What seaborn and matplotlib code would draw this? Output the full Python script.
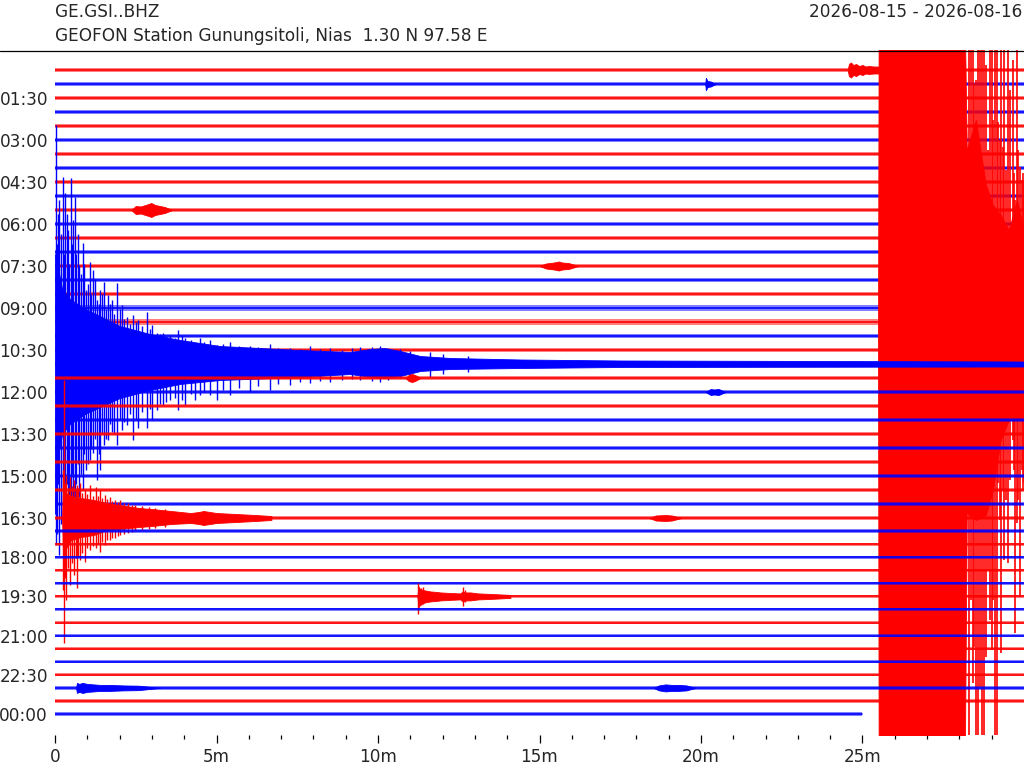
import numpy as np
import pandas as pd
import matplotlib
matplotlib.use("Agg")
import matplotlib.pyplot as plt
from matplotlib.lines import Line2D
import seaborn as sns

# ---------------------------------------------------------------- texts
TITLE_LEFT_1 = "GE.GSI..BHZ"
TITLE_LEFT_2 = "GEOFON Station Gunungsitoli, Nias  1.30 N 97.58 E"
TITLE_RIGHT = "2026-08-15 - 2026-08-16"

ROW_TICK_LABELS = ["01:30", "03:00", "04:30", "06:00", "07:30", "09:00",
                   "10:30", "12:00", "13:30", "15:00", "16:30", "18:00",
                   "19:30", "21:00", "22:30", "00:00"]
X_TICK_VALUES = [0, 5, 10, 15, 20, 25]
X_TICK_LABELS = ["0", "5m", "10m", "15m", "20m", "25m"]

# ---------------------------------------------------------------- rows
N_ROWS = 48
ROW_END_MIN = [30.0] * 47 + [25.0]          # last row stops at 25 min
# half amplitude of the background noise of each row (trace units)
ROW_NOISE = [2.2, 2.2, 2.0, 2.0, 2.0, 2.0, 2.0, 2.0, 2.0, 2.0,
             2.0, 2.0, 2.0, 2.0, 2.0, 2.0, 2.0, 2.6, 2.6, 2.0,
             2.0, 2.0, 2.0, 2.0, 1.8, 1.8, 1.8, 1.8, 1.8, 1.8,
             1.8, 1.8, 1.8, 1.7, 1.6, 1.7, 1.6, 1.7, 1.6, 1.7,
             1.6, 1.7, 1.6, 1.7, 1.6, 1.7, 1.6, 1.7]

# ---------------------------------------------------------------- events
# big quake, starts in row 20 (red) at 25.5 min
MAIN_ROW = 20
MAIN_T = [25.48, 25.50, 28.17, 28.23, 28.51, 28.82, 29.04, 29.28, 29.53, 29.78, 30.0]
MAIN_UP = [0, 320, 320, 200, 230, 165, 145, 135, 120, 150, 120]
MAIN_DN = [0, 400, 400, 163, 170, 165, 140, 90, 70, 70, 70]
MAIN_SPIKE_T = [28.29, 28.36, 28.42, 28.45, 28.51, 28.57, 28.63, 28.70, 28.76,
                28.82, 28.88, 28.94, 29.01, 29.04, 29.10, 29.16, 29.19, 29.25,
                29.28, 29.35, 29.38, 29.44, 29.50, 29.56, 29.66, 29.69, 29.72,
                29.78, 29.81, 29.87, 29.93, 29.97, 30.0]
MAIN_SPIKE_UP = [310, 310, 310, 267, 270, 310, 310, 310, 310, 285, 200, 310,
                 310, 230, 310, 310, 228, 210, 310, 203, 310, 180, 310, 260,
                 290, 177, 150, 310, 200, 183, 170, 177, 170]
MAIN_SPIKE_DN = [400, 250, 333, 297, 400, 400, 337, 400, 400, 307, 220, 270,
                 300, 250, 400, 400, 133, 170, 303, 140, 210, 150, 213, 130,
                 90, 120, 283, 173, 150, 247, 120, 140, 133]

# continuation in row 21 (blue)
CODA_ROW = 21
CODA_T = [0.0, 0.10, 0.22, 0.46, 0.93, 1.39, 2.01, 2.94, 3.87, 5.11, 7.59,
          9.14, 9.76, 10.2, 10.69, 11.31, 12.24, 14.41, 17.51, 30.0]
CODA_UP = [110, 95, 75, 65, 55, 48, 38, 30, 24, 18, 14, 12, 15, 16, 13, 8, 6, 4.5, 3.5, 2.5]
CODA_DN = [150, 90, 70, 60, 50, 43, 34, 26, 20, 16, 13, 10, 13, 14, 12, 7, 5, 4, 3, 2.5]
CODA_SPIKE_T = [0.03, 0.05, 0.09, 0.12, 0.18, 0.24, 0.28, 0.31, 0.36, 0.40,
                0.44, 0.49, 0.53, 0.56, 0.62, 0.66, 0.70, 0.74, 0.80, 0.86,
                0.91, 0.96, 1.02, 1.08, 1.13, 1.18, 1.24, 1.30, 1.35, 1.39,
                1.46, 1.52, 1.58, 1.64, 1.70, 1.77, 1.84, 1.92, 2.00, 2.08,
                2.15, 2.23, 2.33, 2.42, 2.50, 2.57, 2.70, 2.85, 2.95, 3.01,
                3.16, 3.25, 3.35, 3.45, 3.56, 3.70, 3.81, 3.92, 4.03, 4.20,
                4.34, 4.49, 4.60, 4.80, 5.02, 5.20, 5.42, 5.70, 6.04, 6.30,
                6.66, 6.90, 7.28, 7.60, 7.90, 8.20, 8.52, 8.90, 9.20, 9.45,
                9.80, 10.07, 10.30, 10.69, 11.00, 11.62, 12.00, 12.80]
CODA_SPIKE_UP = [239, 120, 150, 164, 130, 187, 110, 171, 150, 134,
                 100, 186, 120, 144, 167, 110, 130, 99, 90, 121,
                 100, 74, 80, 102, 70, 94, 85, 64, 60, 74,
                 70, 82, 55, 69, 60, 64, 50, 81, 55, 59,
                 45, 47, 40, 49, 42, 44, 38, 52, 35, 39,
                 31, 30, 31, 28, 29, 26, 34, 28, 26, 24,
                 21, 26, 22, 24, 19, 20, 22, 18, 18, 17,
                 20, 16, 16, 15, 18, 15, 16, 14, 16, 17,
                 17, 18, 16, 15, 13, 12, 10, 8]
CODA_SPIKE_DN = [181, 170, 120, 191, 160, 156, 140, 184, 120, 176,
                 150, 146, 110, 163, 136, 120, 100, 133, 110, 126,
                 90, 106, 100, 96, 85, 89, 75, 116, 90, 106,
                 70, 81, 75, 76, 60, 68, 70, 81, 55, 66,
                 58, 61, 50, 76, 55, 64, 48, 64, 45, 56,
                 46, 40, 41, 38, 36, 34, 46, 36, 41, 30,
                 36, 31, 28, 31, 36, 26, 31, 24, 28, 22,
                 26, 20, 21, 18, 19, 17, 18, 16, 15, 16,
                 17, 18, 16, 14, 13, 13, 10, 8]

# aftershock in row 32 (red)
AFTER_ROW = 32
AFTER_T = [0.22, 0.25, 0.35, 0.50, 0.80, 1.20, 1.60, 2.00, 2.60, 3.00,
           3.60, 4.20, 4.45, 4.60, 4.80, 5.00, 5.60, 6.20, 6.70]
AFTER_UP = [0, 30, 25, 22, 20, 18, 15, 13, 10, 9, 7, 5, 6, 7, 6, 5, 4, 3, 2]
AFTER_DN = [0, 40, 30, 22, 19, 17, 12, 11, 9, 8, 6, 5, 6, 7, 6, 5, 4, 3, 2]
AFTER_SPIKE_T = [0.25, 0.28, 0.31, 0.34, 0.40, 0.46, 0.52, 0.59, 0.64, 0.68,
                 0.72, 0.77, 0.85, 0.93, 1.00, 1.08, 1.17, 1.27, 1.33, 1.39,
                 1.47, 1.55, 1.62, 1.70, 1.78, 1.86, 1.94, 2.01, 2.13, 2.26,
                 2.37, 2.48, 2.70, 2.90, 3.10, 3.40]
AFTER_SPIKE_UP = [48, 138, 35, 43, 30, 41, 32, 38, 28, 33, 30, 35, 25, 28,
                  24, 33, 22, 31, 22, 28, 20, 23, 19, 21, 17, 18, 16, 18,
                  15, 15, 13, 13, 12, 11, 10, 9]
AFTER_SPIKE_DN = [72, 125, 60, 82, 50, 67, 45, 57, 40, 70, 38, 42, 35, 44,
                  30, 32, 28, 30, 26, 34, 24, 27, 22, 22, 20, 20, 18, 17,
                  16, 15, 14, 12, 12, 11, 10, 9]

# local event in row 38 (red)
LOCAL_ROW = 38
LOCAL_T = [11.22, 11.25, 11.31, 11.45, 11.62, 11.80, 11.93, 12.20, 12.55,
           12.62, 12.70, 12.86, 13.10, 13.48, 14.10]
LOCAL_UP = [0, 10, 7, 6, 5, 4.5, 4, 3.5, 3, 5, 4, 4, 3, 2.5, 1.5]
LOCAL_DN = [0, 11, 8, 6, 5, 4.5, 4, 3.5, 3, 5, 4, 4, 3, 2.5, 1.5]
LOCAL_SPIKE_T = [11.25, 11.34, 11.40, 12.64, 12.70]
LOCAL_SPIKE_UP = [13, 8, 9, 9, 6]
LOCAL_SPIKE_DN = [18, 9, 8, 10, 6]

# small bursts (symmetric half amplitudes)
BURST_ROW = [0, 1, 10, 14, 22, 23, 32, 45, 45]
BURST_T = [[24.54, 24.58, 24.64, 24.72, 24.80, 24.90, 25.0, 25.1, 25.2, 25.35, 25.5],
           [20.13, 20.15, 20.17, 20.20, 20.30, 20.45],
           [2.36, 2.50, 2.65, 2.80, 2.90, 2.98, 3.10, 3.25, 3.40, 3.63],
           [15.0, 15.2, 15.45, 15.6, 15.7, 15.9, 16.2],
           [10.85, 10.95, 11.05, 11.15, 11.31],
           [20.14, 20.30, 20.40, 20.55, 20.76],
           [18.4, 18.6, 18.9, 19.1, 19.4],
           [0.65, 0.68, 0.75, 0.85, 1.0, 1.2, 1.4, 1.7, 2.1, 2.6, 3.25],
           [18.53, 18.7, 18.9, 19.1, 19.3, 19.55, 19.83]]
BURST_AMP = [[0, 6, 7.5, 5, 6, 4, 5, 3.5, 4, 3.5, 3.5],
             [0, 6, 5, 3, 2.5, 0],
             [0, 4, 3.5, 5, 6, 7, 5, 4, 3, 0],
             [0, 2.5, 3.5, 4.5, 3.5, 3, 0],
             [0, 3, 4, 3, 0],
             [0, 3, 2.5, 3, 0],
             [0, 2.5, 3, 2.5, 0],
             [0, 5, 4, 5, 4, 3.5, 3, 3, 2.5, 2.2, 0],
             [0, 2.5, 3.5, 3, 3, 2.5, 0]]

# ---------------------------------------------------------------- styling
RED, BLUE = "#ff0000", "#0000ff"
FONT = 12.2

sns.set_style("white")
plt.rcParams["font.family"] = ["DejaVu Sans"]

fig = plt.figure(figsize=(10.24, 7.68), dpi=100)
ax = fig.add_axes([55 / 1024, 33 / 768, 969 / 1024, 685 / 768])

# trace baselines (pixel-like trace units, downward)
row_y = [70 + 14 * k if k <= 32 else 518 + 13.07 * (k - 32) for k in range(N_ROWS)]
row_color = [RED if k % 2 == 0 else BLUE for k in range(N_ROWS)]


def envelope(row, t, up, dn, z):
    b = row_y[row]
    ax.fill_between(t, [b - u for u in up], [b + d for d in dn],
                    color=row_color[row], lw=0.6, zorder=z)


def spikes(row, t, up, dn, z, lw=1.0):
    b = row_y[row]
    ax.vlines(t, [b - u for u in up], [b + d for d in dn],
              color=row_color[row], lw=lw, zorder=z)


for k in range(N_ROWS):
    z = 2 + k * 0.1
    b = row_y[k]
    df = pd.DataFrame({"t": [0.0, ROW_END_MIN[k]], "y": [b, b]})
    sns.lineplot(data=df, x="t", y="y", ax=ax, color=row_color[k], lw=1.2,
                 zorder=z + 0.02, legend=False)
    ax.fill_between([0.0, ROW_END_MIN[k]], b - ROW_NOISE[k], b + ROW_NOISE[k],
                    color=row_color[k], alpha=0.5, lw=0, zorder=z)

    for r, t, a in zip(BURST_ROW, BURST_T, BURST_AMP):
        if r == k:
            envelope(k, t, a, a, z + 0.03)

    if k == MAIN_ROW:
        envelope(k, MAIN_T, MAIN_UP, MAIN_DN, z + 0.04)
        spikes(k, MAIN_SPIKE_T, MAIN_SPIKE_UP, MAIN_SPIKE_DN, z + 0.05, lw=1.2)
    if k == CODA_ROW:
        envelope(k, CODA_T, CODA_UP, CODA_DN, z + 0.04)
        spikes(k, CODA_SPIKE_T, CODA_SPIKE_UP, CODA_SPIKE_DN, z + 0.05)
    if k == AFTER_ROW:
        envelope(k, AFTER_T, AFTER_UP, AFTER_DN, z + 0.04)
        spikes(k, AFTER_SPIKE_T, AFTER_SPIKE_UP, AFTER_SPIKE_DN, z + 0.05)
    if k == LOCAL_ROW:
        envelope(k, LOCAL_T, LOCAL_UP, LOCAL_DN, z + 0.04)
        spikes(k, LOCAL_SPIKE_T, LOCAL_SPIKE_UP, LOCAL_SPIKE_DN, z + 0.05)

ax.set_xlim(0, 30)
ax.set_ylim(735, 50)
ax.set_xlabel("")
ax.set_ylabel("")
for s in ax.spines.values():
    s.set_visible(False)

ax.set_xticks(X_TICK_VALUES)
ax.set_xticklabels(X_TICK_LABELS, fontsize=FONT)
ax.set_xticks(range(0, 30), minor=True)
ax.tick_params(axis="x", which="major", bottom=True, length=6, width=0.9,
               color="black", pad=3)
ax.tick_params(axis="x", which="minor", bottom=True, length=3, width=0.9,
               color="black")
ax.set_yticks([row_y[k] for k in range(2, N_ROWS, 3)])
ax.set_yticklabels(ROW_TICK_LABELS, fontsize=FONT)
ax.tick_params(axis="y", which="both", left=False, length=0, pad=5)

fig.text(55 / 1024, 1 - 16.7 / 768, TITLE_LEFT_1, fontsize=FONT,
         ha="left", va="baseline")
fig.text(55 / 1024, 1 - 40.7 / 768, TITLE_LEFT_2, fontsize=FONT,
         ha="left", va="baseline")
fig.text(1022.5 / 1024, 1 - 16.7 / 768, TITLE_RIGHT, fontsize=FONT,
         ha="right", va="baseline")
fig.add_artist(Line2D([0, 1], [1 - 50.5 / 768] * 2, color="black", lw=0.9,
                      transform=fig.transFigure, zorder=10))

fig.savefig("out.png", dpi=100)
